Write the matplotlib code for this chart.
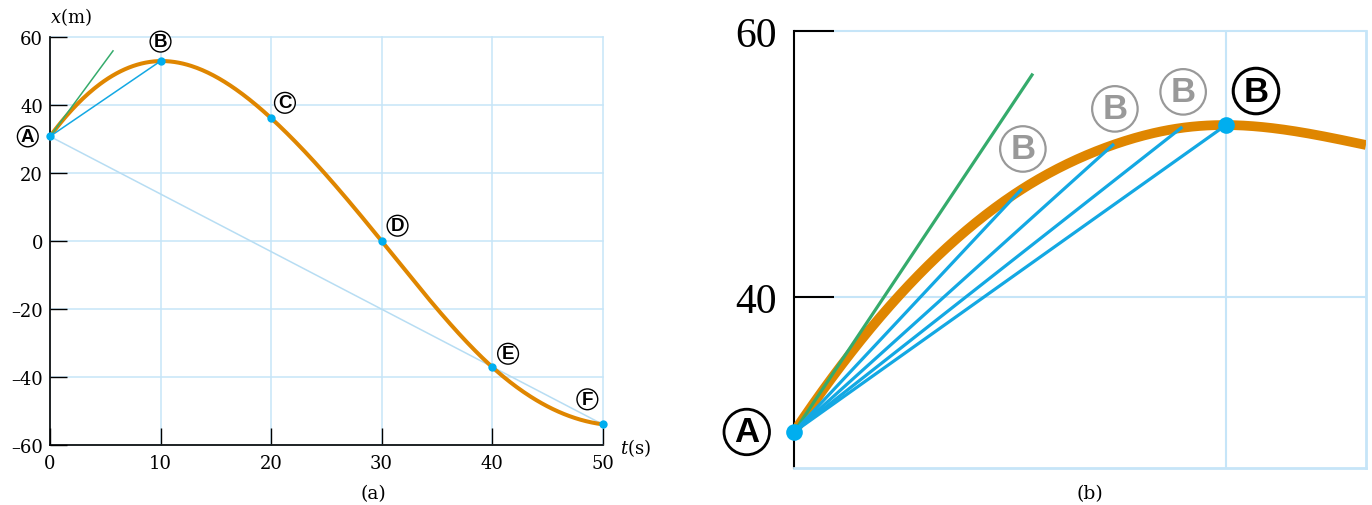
import numpy as np
import matplotlib
matplotlib.use("Agg")
import matplotlib.pyplot as plt

plt.rcParams['font.family'] = 'DejaVu Serif'
plt.rcParams['mathtext.fontset'] = 'dejavuserif'

# panel (a): position-time graph
t_pts = [0, 10, 20, 30, 40, 50]
x_pts = [30.8, 53.0, 36.2, 0.0, -37.1, -54.0]
pt_names = ['A', 'B', 'C', 'D', 'E', 'F']
slope_start_a = 4.4
slope_end_a = -0.42
tangent_a = ([0, 5.7], [30.8, 56.0])
y_ticks_a = [-60, -40, -20, 0, 20, 40, 60]
x_ticks_a = [0, 10, 20, 30, 40, 50]

# panel (b): close-up near A
t_b = [0, 5.25, 7.38, 8.96, 10.0, 13.24]
x_b = [29.85, 48.05, 51.43, 52.71, 52.93, 51.43]
secant_idx = [1, 2, 3, 4]
slope_start_b = 4.87
tangent_b = ([0, 5.51], [29.85, 56.7])
y_ticks_b = [40, 60]

ORANGE = '#DF8600'
BLUE = '#13A8E3'
DOT = '#00AEEF'
GREEN = '#35AB6C'
GRID = '#C6E5F8'
FAINT = '#B7DDF3'
GRAY = '#999999'


def cubic_spline(x, y, xq, d0=None, dn=None):
    x = np.asarray(x, float); y = np.asarray(y, float)
    n = len(x)
    h = np.diff(x)
    A = np.zeros((n, n)); r = np.zeros(n)
    for i in range(1, n - 1):
        A[i, i - 1] = h[i - 1]
        A[i, i] = 2 * (h[i - 1] + h[i])
        A[i, i + 1] = h[i]
        r[i] = 3 * ((y[i + 1] - y[i]) / h[i] - (y[i] - y[i - 1]) / h[i - 1])
    if d0 is None:
        A[0, 0] = 1
    else:
        A[0, 0] = 2 * h[0]; A[0, 1] = h[0]
        r[0] = 3 * ((y[1] - y[0]) / h[0] - d0)
    if dn is None:
        A[-1, -1] = 1
    else:
        A[-1, -2] = h[-1]; A[-1, -1] = 2 * h[-1]
        r[-1] = 3 * (dn - (y[-1] - y[-2]) / h[-1])
    c = np.linalg.solve(A, r)
    b = (y[1:] - y[:-1]) / h - h * (2 * c[:-1] + c[1:]) / 3
    d = (c[1:] - c[:-1]) / (3 * h)
    idx = np.clip(np.searchsorted(x, xq) - 1, 0, n - 2)
    dx = xq - x[idx]
    return y[idx] + b[idx] * dx + c[idx] * dx ** 2 + d[idx] * dx ** 3


def circled(ax, text, xy, off, size, color='black', lw=1.0, weight='bold', pad=0.18):
    ax.annotate(text, xy=xy, xytext=off, textcoords='offset points',
                ha='center', va='center', fontsize=size, color=color,
                family='Liberation Sans', weight=weight, annotation_clip=False,
                bbox=dict(boxstyle='circle,pad=%g' % pad, fc='white', ec=color, lw=lw))


fig = plt.figure(figsize=(13.72, 5.06), dpi=100)

# ---------------- panel (a)
ax = fig.add_axes([0.03644, 0.1192, 0.4028, 0.8051])
ax.set_xlim(0, 50)
ax.set_ylim(-60, 60)
ax.set_xticks(x_ticks_a)
ax.set_yticks(y_ticks_a)
ax.set_yticklabels([str(v).replace('-', '\u2013') for v in y_ticks_a])
ax.grid(True, color=GRID, lw=1.1)
for gl in ax.get_xgridlines() + ax.get_ygridlines():
    gl.set_clip_on(False)
ax.set_axisbelow(True)
for s in ['top', 'right']:
    ax.spines[s].set_visible(False)
for s in ['left', 'bottom']:
    ax.spines[s].set_linewidth(1.2)
ax.tick_params(direction='in', length=12, width=1.0, labelsize=13, pad=5)
ax.tick_params(axis='x', pad=7)

tt = np.linspace(0, 50, 400)
ax.plot([t_pts[0], t_pts[-1]], [x_pts[0], x_pts[-1]], color=FAINT, lw=1.1, zorder=2)
ax.plot(tt, cubic_spline(t_pts, x_pts, tt, slope_start_a, slope_end_a),
        color=ORANGE, lw=2.9, zorder=3, clip_on=False, solid_capstyle='butt')
ax.plot(tangent_a[0], tangent_a[1], color=GREEN, lw=1.1, zorder=4)
ax.plot(t_pts[:2], x_pts[:2], color=BLUE, lw=1.1, zorder=4)
ax.plot(t_pts, x_pts, 'o', color=DOT, ms=6, mew=0, zorder=5, clip_on=False)

offs_a = [(-16, 0), (0, 14), (10, 11), (11.5, 11), (11.5, 9.5), (-11, 18)]
for name, tp, xp, off in zip(pt_names, t_pts, x_pts, offs_a):
    circled(ax, name, (tp, xp), off, 13.5, pad=0.1)

ax.text(0, 1.025, r'$x$(m)', transform=ax.transAxes, ha='left', va='bottom',
        fontsize=13)
ax.text(1.032, -0.005, r'$t$(s)', transform=ax.transAxes, ha='left', va='center',
        fontsize=13)
fig.text(373 / 1372, 1 - 494 / 506, '(a)', ha='center', va='center', fontsize=13.5)

# ---------------- panel (b)
bx = fig.add_axes([0.5787, 0.0731, 0.4169, 0.8636])
bx.set_xlim(0, t_b[-1])
bx.set_ylim(27.14, 60)
bx.set_xticks([10])
bx.set_yticks(y_ticks_b)
bx.grid(True, color=GRID, lw=1.5)
for gl in bx.get_ygridlines():
    gl.set_clip_on(False)
bx.set_axisbelow(True)
bx.spines['top'].set_visible(False)
for s in ['right', 'bottom']:
    bx.spines[s].set_color(GRID)
    bx.spines[s].set_linewidth(2.0)
bx.spines['left'].set_linewidth(1.5)
bx.tick_params(axis='y', direction='in', length=29, width=1.5, labelsize=30, pad=12)
bx.tick_params(axis='x', length=0, labelbottom=False)
for lab in bx.get_yticklabels():
    lab.set_family('Liberation Serif')

tb = np.linspace(0, t_b[-1], 300)
bx.plot(tb, cubic_spline(t_b, x_b, tb, slope_start_b, None),
        color=ORANGE, lw=7, zorder=3, solid_capstyle='butt')
bx.plot(tangent_b[0], tangent_b[1], color=GREEN, lw=2.3, zorder=4)
for i in secant_idx:
    bx.plot([t_b[0], t_b[i]], [x_b[0], x_b[i]], color=BLUE, lw=2.3, zorder=4)
bx.plot([t_b[0], t_b[4]], [x_b[0], x_b[4]], 'o', color=DOT, ms=12, mew=0,
        zorder=5, clip_on=False)

circled(bx, 'A', (t_b[0], x_b[0]), (-34, 0), 25, lw=2.0)
for i, off in zip(secant_idx[:3], [(1.5, 29.5), (1.5, 26), (1.5, 26)]):
    circled(bx, 'B', (t_b[i], x_b[i]), off, 25, color=GRAY, lw=1.6)
circled(bx, 'B', (t_b[4], x_b[4]), (21.6, 24.5), 25, lw=2.2)

fig.text(1090 / 1372, 1 - 494 / 506, '(b)', ha='center', va='center', fontsize=13.5)

fig.savefig('out.png', dpi=100)
